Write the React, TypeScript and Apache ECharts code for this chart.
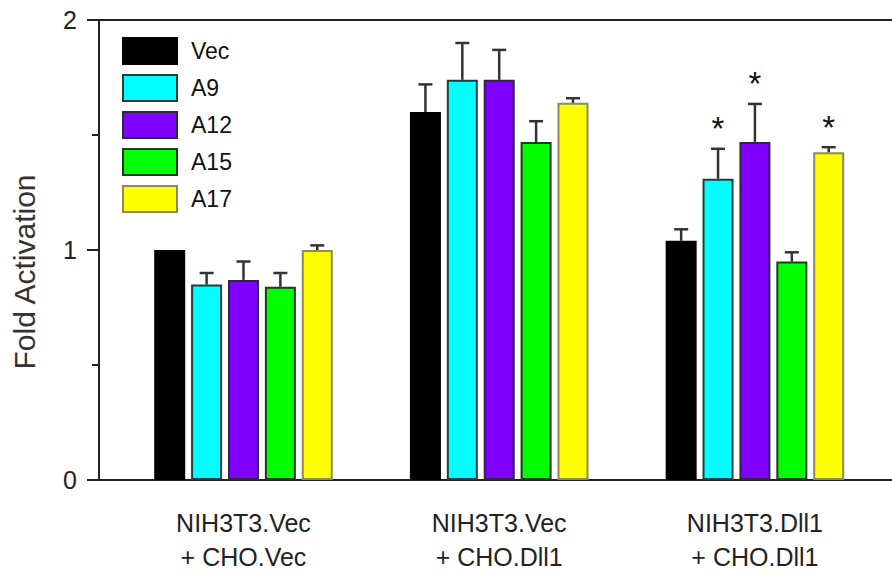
import React, { useEffect, useRef } from "react";
import * as echarts from "echarts";

const categories = ["NIH3T3.Vec\n+ CHO.Vec", "NIH3T3.Vec\n+ CHO.Dll1", "NIH3T3.Dll1\n+ CHO.Dll1"];
const categoryPositions = [1, 2, 3];
const seriesNames = ["Vec", "A9", "A12", "A15", "A17"];
const vecValues = [1.0, 1.6, 1.04];
const vecErrors = [0, 0.12, 0.05];
const a9Values = [0.85, 1.74, 1.31];
const a9Errors = [0.05, 0.16, 0.13];
const a12Values = [0.87, 1.74, 1.47];
const a12Errors = [0.08, 0.13, 0.165];
const a15Values = [0.84, 1.47, 0.95];
const a15Errors = [0.06, 0.09, 0.04];
const a17Values = [1.0, 1.64, 1.425];
const a17Errors = [0.02, 0.02, 0.022];
const vecSignificant = [false, false, false];
const a9Significant = [false, false, true];
const a12Significant = [false, false, true];
const a15Significant = [false, false, false];
const a17Significant = [false, false, true];
const yTicks = [0, 1, 2];

const allValues = [vecValues, a9Values, a12Values, a15Values, a17Values];
const allErrors = [vecErrors, a9Errors, a12Errors, a15Errors, a17Errors];
const allSignificant = [vecSignificant, a9Significant, a12Significant, a15Significant, a17Significant];

const colors = ["#000000", "#00FFFF", "#7F00FF", "#00FF00", "#FFFF00"];
const borders = ["#000000", "#1f3f3f", "#2a2a3a", "#1f3a1f", "#8a8a5a"];
const FONT = "'Liberation Sans', Arial, sans-serif";
const BAR_W = 31;
const GAP = 0.19;
const STEP = BAR_W * (1 + GAP);

export default function App() {
  const ref = useRef<HTMLDivElement>(null);
  useEffect(() => {
    if (!ref.current) return;
    const chart = echarts.init(ref.current, null, { renderer: "svg" });
    const barSeries = seriesNames.map((name, j) => ({
      name,
      type: "bar",
      barWidth: BAR_W,
      barGap: GAP * 100 + "%",
      itemStyle: { color: colors[j], borderColor: borders[j], borderWidth: 2 },
      data: categoryPositions.map((x, i) => [x, allValues[j][i]]),
    }));
    const errData: any[] = [];
    seriesNames.forEach((_, j) => {
      categoryPositions.forEach((x, i) => {
        errData.push([x, j, allValues[j][i], allErrors[j][i], allSignificant[j][i] ? 1 : 0]);
      });
    });
    const xMin = 0.435;
    const xMax = 3.536;
    chart.setOption({
      animation: false,
      textStyle: { fontFamily: FONT },
      grid: { left: 99, right: 0, top: 20, bottom: 100 },
      legend: {
        orient: "vertical",
        left: 122,
        top: 37,
        padding: 0,
        itemWidth: 54,
        itemHeight: 26,
        itemGap: 9,
        icon: "rect",
        selectedMode: false,
        textStyle: { fontSize: 23, color: "#111", fontFamily: FONT, padding: [0, 0, 0, 9] },
        data: seriesNames,
      },
      xAxis: [
        {
          type: "value",
          min: xMin,
          max: xMax,
          axisLine: { show: true, lineStyle: { color: "#222", width: 2 } },
          axisTick: { show: false },
          splitLine: { show: false },
          axisLabel: {
            customValues: categoryPositions,
            formatter: (v: number) => {
              const idx = categoryPositions.indexOf(Math.round(v));
              return idx >= 0 ? categories[idx] : "";
            },
            fontSize: 25,
            lineHeight: 34,
            margin: 26,
            color: "#222",
            fontFamily: FONT,
          },
        },
        {
          type: "value",
          position: "top",
          min: xMin,
          max: xMax,
          axisLine: { show: true, onZero: false, lineStyle: { color: "#222", width: 2 } },
          axisTick: { show: false },
          axisLabel: { show: false },
          splitLine: { show: false },
        },
      ],
      yAxis: {
        type: "value",
        min: yTicks[0],
        max: yTicks[yTicks.length - 1],
        interval: 1,
        name: "Fold Activation",
        nameLocation: "middle",
        nameRotate: 90,
        nameGap: 60,
        nameTextStyle: { fontSize: 30, color: "#333", fontFamily: FONT, padding: [0, 44, 0, 0] },
        axisLine: { show: true, lineStyle: { color: "#222", width: 2 } },
        axisTick: { show: true, length: 12, lineStyle: { color: "#222", width: 2 } },
        minorTick: { show: true, splitNumber: 2, length: 7, lineStyle: { color: "#222", width: 2 } },
        splitLine: { show: false },
        axisLabel: { fontSize: 25, color: "#222", margin: 22, fontFamily: FONT },
      },
      series: [
        ...barSeries,
        {
          type: "custom",
          name: "errors",
          z: 3,
          xAxisIndex: 0,
          renderItem: (params: any, api: any) => {
            const x = api.value(0);
            const j = api.value(1);
            const v = api.value(2);
            const e = api.value(3);
            const sig = api.value(4);
            const base = api.coord([x, v]);
            const top = api.coord([x, v + e]);
            const cx = base[0] + (j - 2) * STEP;
            const children: any[] = [];
            if (e > 0) {
              children.push({
                type: "line",
                shape: { x1: cx, y1: base[1], x2: cx, y2: top[1] },
                style: { stroke: "#333", lineWidth: 2.5 },
              });
              children.push({
                type: "line",
                shape: { x1: cx - 7, y1: top[1], x2: cx + 7, y2: top[1] },
                style: { stroke: "#333", lineWidth: 2.5 },
              });
            }
            if (sig) {
              children.push({
                type: "text",
                x: cx,
                y: top[1] - 20,
                style: {
                  text: "*",
                  fontSize: 33,
                  fontFamily: FONT,
                  fill: "#111",
                  align: "center",
                  verticalAlign: "middle",
                },
              });
            }
            return { type: "group", children };
          },
          data: errData,
        },
      ],
    });
    return () => chart.dispose();
  }, []);
  return <div ref={ref} style={{ width: 892, height: 580, position: "absolute", left: 0, top: 0 }} />;
}
